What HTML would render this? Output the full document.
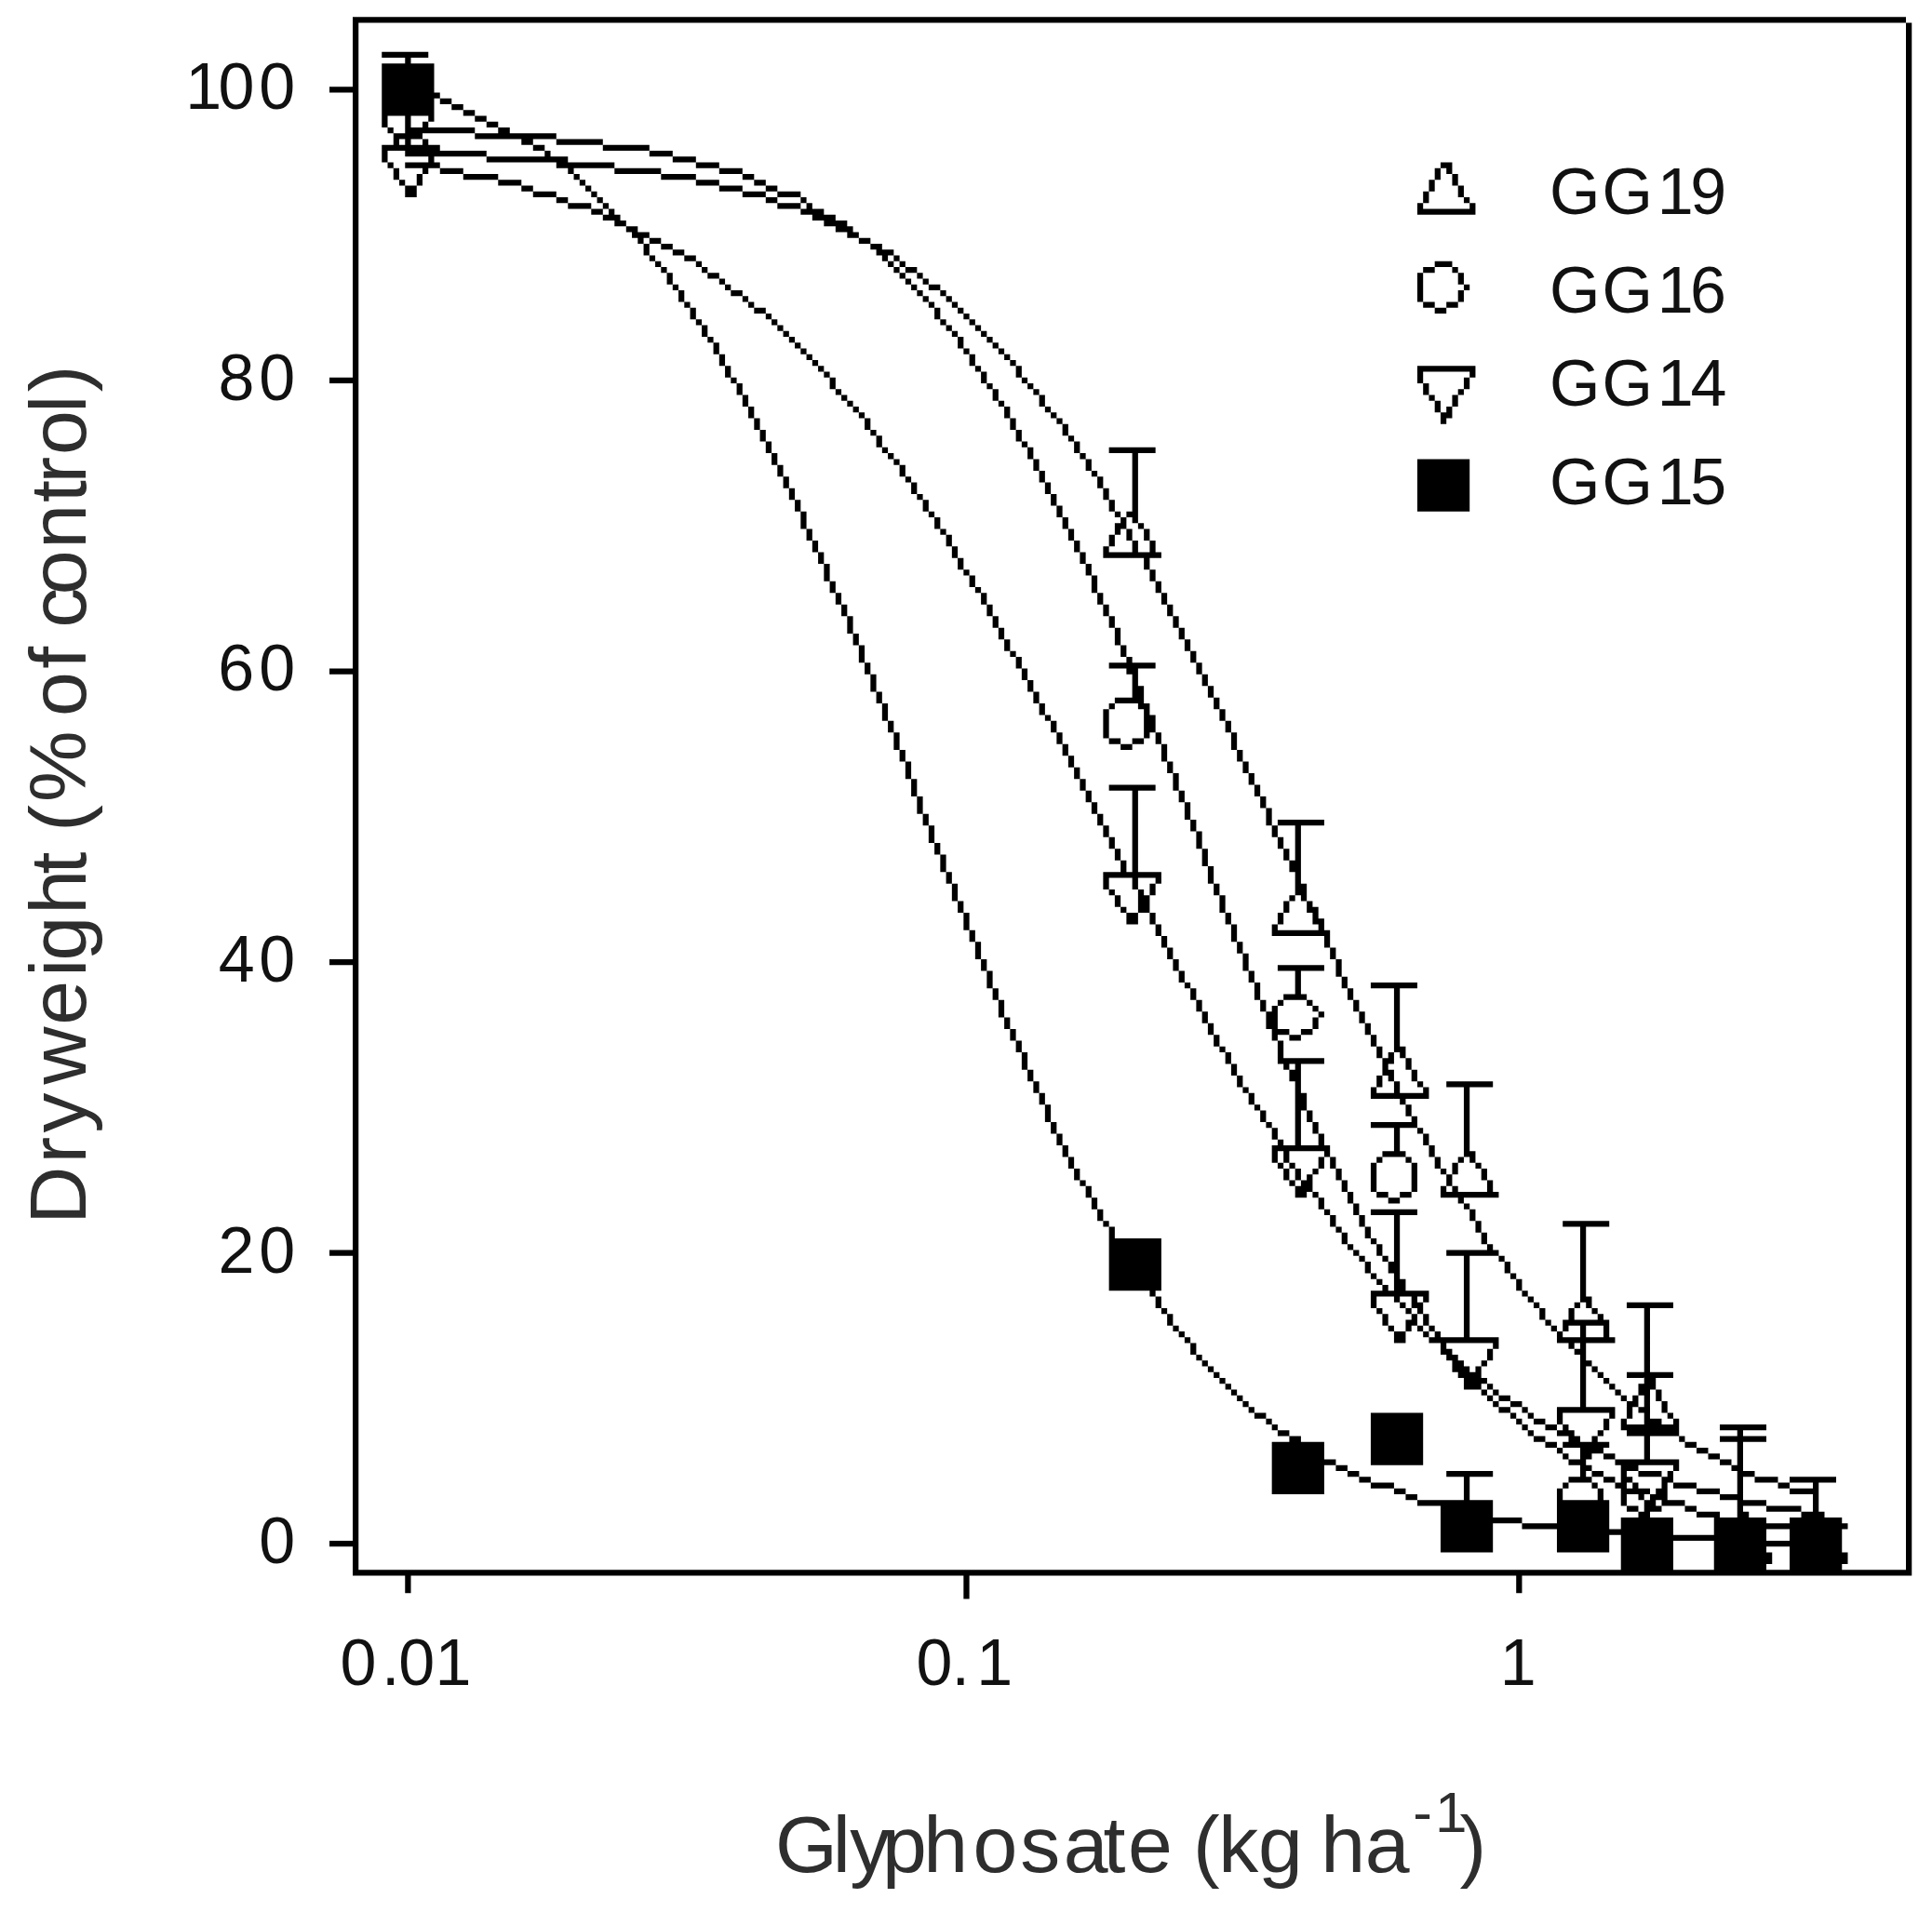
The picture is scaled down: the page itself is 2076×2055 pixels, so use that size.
<!DOCTYPE html>
<html lang="en"><head><meta charset="utf-8"><title>Dose response: dry weight vs glyphosate</title>
<style>
html,body{margin:0;padding:0;background:#fff}
body{width:2076px;height:2055px;overflow:hidden}
svg{display:block}
text{font-family:"Liberation Sans",sans-serif;fill:#111}
.t{font-size:70.00px}
.a{font-size:86.00px;fill:#2e2e2e}
.s{font-size:62.00px}
</style></head>
<body>
<svg width="2076" height="2055" viewBox="0 0 2076 2055">
<rect width="2076" height="2055" fill="#fff"/>
<g transform="translate(379.00 18.30) scale(6.2510)"><path fill="#000" d="M0 0h267v1h-267zM0 1h1v267h-1zM267 1h1v267h-1zM5 6h8v1h-8zM9 7h1v17h-1zM5 8h4v9h-4zM10 8h4v9h-4zM-4 12h4v1h-4zM14 13h1v1h-1zM15 14h2v1h-2zM17 15h2v1h-2zM19 16h2v1h-2zM5 17h1v2h-1zM13 17h1v1h-1zM21 17h2v1h-2zM12 18h1v2h-1zM23 18h2v1h-2zM6 19h1v1h-1zM10 19h2v2h-2zM13 19h8v1h-8zM25 19h2v2h-2zM7 20h2v1h-2zM21 20h4v1h-4zM27 20h8v1h-8zM7 21h1v2h-1zM12 21h1v3h-1zM29 21h2v1h-2zM35 21h8v1h-8zM5 22h2v1h-2zM8 22h1v1h-1zM10 22h2v2h-2zM13 22h2v2h-2zM31 22h2v1h-2zM43 22h8v1h-8zM5 23h1v2h-1zM15 23h8v1h-8zM33 23h1v2h-1zM51 23h4v1h-4zM13 24h1v2h-1zM23 24h10v1h-10zM34 24h3v1h-3zM55 24h4v1h-4zM6 25h1v1h-1zM9 25h4v1h-4zM14 25h1v1h-1zM35 25h10v1h-10zM59 25h4v1h-4zM187 25h2v1h-2zM7 26h1v2h-1zM12 26h1v1h-1zM15 26h4v1h-4zM37 26h1v1h-1zM45 26h8v1h-8zM63 26h4v1h-4zM186 26h1v2h-1zM188 26h1v1h-1zM11 27h1v2h-1zM19 27h6v1h-6zM38 27h1v1h-1zM53 27h6v1h-6zM67 27h2v1h-2zM189 27h1v2h-1zM8 28h1v1h-1zM25 28h4v1h-4zM39 28h1v1h-1zM59 28h4v1h-4zM69 28h2v1h-2zM185 28h1v2h-1zM9 29h2v2h-2zM29 29h2v1h-2zM40 29h1v1h-1zM63 29h4v1h-4zM71 29h2v1h-2zM190 29h1v2h-1zM31 30h4v1h-4zM41 30h1v1h-1zM67 30h4v1h-4zM73 30h4v1h-4zM184 30h1v2h-1zM35 31h2v1h-2zM42 31h1v1h-1zM71 31h2v1h-2zM77 31h1v1h-1zM191 31h1v1h-1zM37 32h4v1h-4zM43 32h1v1h-1zM73 32h4v1h-4zM78 32h1v2h-1zM183 32h1v2h-1zM192 32h1v2h-1zM41 33h2v1h-2zM44 33h1v2h-1zM77 33h1v1h-1zM79 33h2v2h-2zM184 33h8v1h-8zM43 34h1v1h-1zM45 34h1v2h-1zM81 34h2v2h-2zM46 35h1v1h-1zM83 35h2v2h-2zM47 36h2v1h-2zM85 36h1v2h-1zM48 37h3v1h-3zM86 37h1v1h-1zM49 38h1v1h-1zM51 38h2v1h-2zM87 38h2v1h-2zM50 39h1v2h-1zM53 39h2v1h-2zM89 39h2v1h-2zM55 40h2v1h-2zM90 40h3v1h-3zM51 41h1v1h-1zM57 41h2v1h-2zM91 41h1v1h-1zM93 41h1v1h-1zM52 42h1v1h-1zM59 42h1v1h-1zM92 42h1v1h-1zM94 42h1v1h-1zM186 42h3v1h-3zM53 43h1v1h-1zM60 43h1v1h-1zM93 43h1v1h-1zM95 43h2v1h-2zM184 43h2v1h-2zM189 43h1v1h-1zM54 44h1v2h-1zM61 44h2v1h-2zM94 44h1v1h-1zM97 44h1v1h-1zM183 44h1v5h-1zM190 44h1v2h-1zM63 45h1v1h-1zM95 45h1v1h-1zM98 45h1v1h-1zM55 46h1v1h-1zM64 46h1v1h-1zM96 46h1v1h-1zM99 46h2v1h-2zM191 46h1v1h-1zM56 47h1v2h-1zM65 47h2v1h-2zM97 47h1v1h-1zM101 47h1v1h-1zM190 47h1v2h-1zM67 48h1v1h-1zM98 48h1v1h-1zM102 48h1v1h-1zM57 49h1v1h-1zM68 49h1v1h-1zM99 49h1v1h-1zM103 49h1v1h-1zM184 49h2v1h-2zM188 49h2v1h-2zM58 50h1v2h-1zM69 50h2v1h-2zM100 50h1v2h-1zM104 50h1v1h-1zM186 50h2v1h-2zM71 51h1v1h-1zM105 51h1v1h-1zM59 52h1v1h-1zM72 52h1v1h-1zM101 52h1v1h-1zM106 52h1v1h-1zM60 53h1v2h-1zM73 53h1v1h-1zM102 53h1v1h-1zM107 53h1v1h-1zM74 54h1v1h-1zM103 54h1v1h-1zM108 54h1v1h-1zM61 55h1v1h-1zM75 55h1v1h-1zM104 55h1v2h-1zM109 55h1v1h-1zM62 56h1v2h-1zM76 56h1v1h-1zM110 56h1v1h-1zM77 57h1v1h-1zM105 57h1v1h-1zM111 57h1v1h-1zM63 58h1v2h-1zM78 58h1v1h-1zM106 58h1v2h-1zM112 58h1v1h-1zM79 59h1v1h-1zM113 59h1v1h-1zM64 60h1v2h-1zM80 60h1v1h-1zM107 60h1v1h-1zM114 60h1v2h-1zM183 60h10v1h-10zM81 61h1v1h-1zM108 61h1v2h-1zM183 61h1v2h-1zM192 61h1v1h-1zM-4 62h4v1h-4zM65 62h1v1h-1zM82 62h1v2h-1zM115 62h1v1h-1zM191 62h1v2h-1zM66 63h1v2h-1zM109 63h1v1h-1zM116 63h1v1h-1zM184 63h1v2h-1zM83 64h1v1h-1zM110 64h1v2h-1zM117 64h1v1h-1zM190 64h1v1h-1zM67 65h1v2h-1zM84 65h1v1h-1zM118 65h1v2h-1zM185 65h1v1h-1zM189 65h1v2h-1zM85 66h1v1h-1zM111 66h1v1h-1zM186 66h1v2h-1zM68 67h1v2h-1zM86 67h1v1h-1zM112 67h1v2h-1zM119 67h1v1h-1zM188 67h1v2h-1zM87 68h1v1h-1zM120 68h1v1h-1zM187 68h1v2h-1zM69 69h1v2h-1zM88 69h1v2h-1zM113 69h1v2h-1zM121 69h1v1h-1zM122 70h1v2h-1zM70 71h1v2h-1zM89 71h1v1h-1zM114 71h1v2h-1zM90 72h1v2h-1zM123 72h1v1h-1zM71 73h1v2h-1zM115 73h1v1h-1zM124 73h1v2h-1zM91 74h1v1h-1zM116 74h1v2h-1zM130 74h8v1h-8zM72 75h1v2h-1zM92 75h1v1h-1zM125 75h1v1h-1zM134 75h1v12h-1zM93 76h1v1h-1zM117 76h1v2h-1zM126 76h1v2h-1zM183 76h9v9h-9zM73 77h1v2h-1zM94 77h1v2h-1zM118 78h1v2h-1zM127 78h1v1h-1zM74 79h1v2h-1zM95 79h1v1h-1zM128 79h1v2h-1zM96 80h1v2h-1zM119 80h1v2h-1zM75 81h1v2h-1zM129 81h1v2h-1zM97 82h1v1h-1zM120 82h1v2h-1zM76 83h1v2h-1zM98 83h1v2h-1zM130 83h1v2h-1zM121 84h1v2h-1zM77 85h1v3h-1zM99 85h1v1h-1zM131 85h1v1h-1zM133 85h1v1h-1zM100 86h1v2h-1zM122 86h1v2h-1zM132 86h1v2h-1zM131 87h1v2h-1zM135 87h1v1h-1zM78 88h1v2h-1zM101 88h1v1h-1zM123 88h1v2h-1zM133 88h1v2h-1zM136 88h1v2h-1zM102 89h1v2h-1zM130 89h1v2h-1zM79 90h1v2h-1zM124 90h1v2h-1zM134 90h1v3h-1zM137 90h1v3h-1zM103 91h1v2h-1zM129 91h1v2h-1zM80 92h1v2h-1zM125 92h1v2h-1zM130 92h4v1h-4zM135 92h2v1h-2zM138 92h1v1h-1zM104 93h1v2h-1zM136 93h1v2h-1zM81 94h1v3h-1zM126 94h1v2h-1zM105 95h1v1h-1zM137 95h1v2h-1zM106 96h1v2h-1zM127 96h1v3h-1zM82 97h1v2h-1zM138 97h1v2h-1zM107 98h1v1h-1zM83 99h1v2h-1zM108 99h1v2h-1zM128 99h1v2h-1zM139 99h1v2h-1zM84 101h1v2h-1zM109 101h1v2h-1zM129 101h1v2h-1zM140 101h1v2h-1zM85 103h1v3h-1zM110 103h1v2h-1zM130 103h1v2h-1zM141 103h1v2h-1zM111 105h1v2h-1zM131 105h1v3h-1zM142 105h1v2h-1zM86 106h1v2h-1zM112 107h1v2h-1zM143 107h1v2h-1zM87 108h1v3h-1zM132 108h1v2h-1zM113 109h1v1h-1zM144 109h1v2h-1zM114 110h1v2h-1zM133 110h1v3h-1zM88 111h1v2h-1zM130 111h3v1h-3zM134 111h4v1h-4zM145 111h1v2h-1zM-4 112h4v1h-4zM115 112h1v2h-1zM134 112h1v6h-1zM89 113h1v3h-1zM146 113h1v2h-1zM116 114h1v2h-1zM135 115h1v4h-1zM147 115h1v2h-1zM90 116h1v2h-1zM117 116h1v2h-1zM131 117h3v1h-3zM148 117h1v2h-1zM91 118h1v3h-1zM118 118h1v2h-1zM130 118h1v1h-1zM136 118h1v6h-1zM129 119h1v5h-1zM149 119h1v2h-1zM119 120h1v1h-1zM137 120h1v3h-1zM92 121h1v2h-1zM120 121h1v2h-1zM150 121h1v2h-1zM93 123h1v3h-1zM121 123h1v2h-1zM138 123h1v2h-1zM151 123h1v3h-1zM130 124h2v1h-2zM134 124h2v1h-2zM122 125h1v2h-1zM132 125h2v1h-2zM139 125h1v3h-1zM94 126h1v2h-1zM152 126h1v2h-1zM123 127h1v2h-1zM95 128h1v3h-1zM140 128h1v2h-1zM153 128h1v2h-1zM124 129h1v2h-1zM141 130h1v3h-1zM154 130h1v2h-1zM96 131h1v3h-1zM125 131h1v2h-1zM130 132h8v1h-8zM155 132h1v2h-1zM126 133h1v2h-1zM134 133h1v17h-1zM142 133h1v2h-1zM97 134h1v3h-1zM156 134h1v2h-1zM127 135h1v2h-1zM143 135h1v3h-1zM157 136h1v3h-1zM98 137h1v2h-1zM128 137h1v2h-1zM144 138h1v2h-1zM159 138h8v1h-8zM99 139h1v3h-1zM129 139h1v2h-1zM158 139h1v2h-1zM162 139h1v12h-1zM145 140h1v3h-1zM130 141h1v2h-1zM159 141h1v2h-1zM100 142h1v2h-1zM131 143h1v2h-1zM146 143h1v3h-1zM160 143h1v2h-1zM101 144h1v3h-1zM132 145h1v3h-1zM161 145h1v2h-1zM147 146h1v3h-1zM102 147h1v2h-1zM129 147h3v1h-3zM133 147h1v1h-1zM135 147h4v1h-4zM129 148h1v2h-1zM138 148h1v1h-1zM103 149h1v3h-1zM137 149h1v2h-1zM148 149h1v2h-1zM163 149h1v3h-1zM130 150h1v1h-1zM135 150h1v4h-1zM131 151h1v2h-1zM136 151h1v3h-1zM149 151h1v3h-1zM161 151h1v1h-1zM104 152h1v2h-1zM160 152h1v2h-1zM164 152h1v2h-1zM132 153h1v1h-1zM165 153h1v3h-1zM105 154h1v3h-1zM133 154h2v2h-2zM137 154h1v2h-1zM150 154h1v2h-1zM159 154h1v2h-1zM166 155h1v3h-1zM138 156h1v2h-1zM151 156h1v3h-1zM158 156h1v2h-1zM106 157h1v2h-1zM159 157h7v1h-7zM167 157h1v3h-1zM139 158h1v2h-1zM107 159h1v3h-1zM152 159h1v2h-1zM140 160h1v2h-1zM168 160h1v2h-1zM153 161h1v3h-1zM-4 162h4v1h-4zM108 162h1v2h-1zM141 162h1v2h-1zM169 162h1v3h-1zM159 163h8v1h-8zM109 164h1v3h-1zM142 164h1v2h-1zM154 164h1v2h-1zM162 164h1v5h-1zM170 165h1v2h-1zM143 166h1v1h-1zM155 166h1v3h-1zM175 166h8v1h-8zM110 167h1v2h-1zM144 167h1v2h-1zM171 167h1v2h-1zM179 167h1v11h-1zM160 168h2v1h-2zM163 168h1v1h-1zM111 169h1v3h-1zM145 169h1v2h-1zM156 169h1v2h-1zM159 169h1v1h-1zM164 169h1v1h-1zM172 169h1v2h-1zM158 170h1v6h-1zM165 170h1v1h-1zM146 171h1v2h-1zM157 171h1v3h-1zM166 171h1v1h-1zM173 171h1v2h-1zM112 172h1v2h-1zM165 172h1v2h-1zM147 173h1v2h-1zM174 173h1v2h-1zM113 174h1v2h-1zM159 174h2v1h-2zM163 174h2v1h-2zM148 175h1v2h-1zM161 175h2v1h-2zM175 175h1v2h-1zM114 176h1v2h-1zM159 176h1v4h-1zM149 177h1v1h-1zM176 177h1v2h-1zM180 177h1v2h-1zM115 178h1v3h-1zM150 178h1v2h-1zM178 178h1v2h-1zM160 179h7v1h-7zM177 179h1v3h-1zM181 179h1v2h-1zM151 180h1v2h-1zM160 180h1v1h-1zM162 180h1v15h-1zM116 181h1v2h-1zM161 181h1v2h-1zM178 181h1v2h-1zM182 181h1v2h-1zM152 182h1v2h-1zM176 182h1v2h-1zM117 183h1v2h-1zM179 183h1v3h-1zM183 183h1v1h-1zM188 183h8v1h-8zM153 184h1v1h-1zM175 184h1v2h-1zM184 184h1v2h-1zM191 184h1v12h-1zM118 185h1v2h-1zM154 185h1v2h-1zM163 185h1v3h-1zM176 185h3v1h-3zM180 185h4v1h-4zM180 186h1v1h-1zM119 187h1v3h-1zM155 187h1v1h-1zM181 187h1v2h-1zM156 188h1v2h-1zM164 188h1v2h-1zM182 189h1v2h-1zM120 190h1v2h-1zM157 190h1v1h-1zM165 190h1v2h-1zM175 190h7v1h-7zM158 191h1v2h-1zM179 191h1v5h-1zM183 191h1v1h-1zM121 192h1v2h-1zM166 192h1v3h-1zM184 192h1v2h-1zM159 193h1v2h-1zM122 194h1v2h-1zM158 194h1v3h-1zM160 194h2v1h-2zM163 194h3v1h-3zM167 194h1v2h-1zM185 194h1v2h-1zM160 195h1v2h-1zM177 195h2v1h-2zM180 195h1v1h-1zM192 195h1v2h-1zM123 196h1v2h-1zM166 196h1v2h-1zM168 196h1v2h-1zM176 196h1v1h-1zM181 196h1v1h-1zM186 196h1v2h-1zM190 196h1v1h-1zM159 197h1v1h-1zM161 197h1v1h-1zM175 197h1v5h-1zM182 197h1v5h-1zM189 197h1v2h-1zM193 197h1v1h-1zM124 198h1v2h-1zM160 198h1v2h-1zM162 198h1v2h-1zM165 198h1v1h-1zM169 198h1v2h-1zM187 198h1v1h-1zM194 198h1v2h-1zM164 199h1v3h-1zM188 199h1v2h-1zM125 200h1v1h-1zM161 200h1v1h-1zM163 200h1v3h-1zM170 200h1v2h-1zM195 200h1v3h-1zM126 201h1v2h-1zM162 201h1v2h-1zM187 201h1v2h-1zM189 201h1v2h-1zM165 202h1v1h-1zM171 202h1v2h-1zM176 202h2v1h-2zM180 202h2v1h-2zM188 202h1v1h-1zM190 202h5v1h-5zM196 202h1v1h-1zM127 203h1v2h-1zM166 203h1v2h-1zM178 203h2v1h-2zM190 203h1v1h-1zM172 204h1v2h-1zM191 204h1v1h-1zM128 205h1v2h-1zM167 205h1v1h-1zM175 205h8v1h-8zM192 205h1v2h-1zM168 206h1v2h-1zM173 206h1v2h-1zM179 206h1v15h-1zM129 207h1v1h-1zM193 207h1v2h-1zM208 207h8v1h-8zM130 208h1v11h-1zM169 208h1v1h-1zM174 208h1v2h-1zM211 208h1v13h-1zM170 209h1v2h-1zM194 209h1v2h-1zM131 210h8v9h-8zM175 210h1v1h-1zM171 211h1v1h-1zM176 211h1v2h-1zM195 211h1v2h-1zM-4 212h4v1h-4zM172 212h1v1h-1zM188 212h7v1h-7zM196 212h1v1h-1zM173 213h1v1h-1zM177 213h1v1h-1zM191 213h1v15h-1zM197 213h1v1h-1zM174 214h1v2h-1zM178 214h1v2h-1zM198 214h1v2h-1zM175 216h1v1h-1zM199 216h1v1h-1zM176 217h1v1h-1zM180 217h1v3h-1zM200 217h1v2h-1zM177 218h1v2h-1zM137 219h1v1h-1zM175 219h2v1h-2zM178 219h1v1h-1zM181 219h4v1h-4zM201 219h1v1h-1zM138 220h1v2h-1zM175 220h1v2h-1zM182 220h1v2h-1zM184 220h1v1h-1zM202 220h1v1h-1zM212 220h1v2h-1zM180 221h1v1h-1zM183 221h1v2h-1zM203 221h1v1h-1zM210 221h1v1h-1zM219 221h8v1h-8zM139 222h1v1h-1zM176 222h1v1h-1zM181 222h1v1h-1zM204 222h1v2h-1zM209 222h1v3h-1zM213 222h1v1h-1zM222 222h1v27h-1zM140 223h1v2h-1zM177 223h1v2h-1zM182 223h1v2h-1zM184 223h1v2h-1zM214 223h1v2h-1zM181 224h1v2h-1zM205 224h1v1h-1zM208 224h1v2h-1zM210 224h4v1h-4zM215 224h1v4h-1zM141 225h1v1h-1zM178 225h1v1h-1zM183 225h1v1h-1zM185 225h1v1h-1zM206 225h1v1h-1zM211 225h1v15h-1zM142 226h1v1h-1zM179 226h2v2h-2zM184 226h1v1h-1zM186 226h1v2h-1zM207 226h1v2h-1zM143 227h1v1h-1zM185 227h1v1h-1zM187 227h4v1h-4zM192 227h5v1h-5zM208 227h3v1h-3zM212 227h3v1h-3zM216 227h1v1h-1zM144 228h1v2h-1zM187 228h1v2h-1zM196 228h1v1h-1zM209 228h1v1h-1zM188 229h1v2h-1zM195 229h1v2h-1zM210 229h1v1h-1zM145 230h1v1h-1zM189 230h1v3h-1zM146 231h1v1h-1zM190 231h1v3h-1zM194 231h1v1h-1zM212 231h1v1h-1zM147 232h1v1h-1zM191 232h1v4h-1zM193 232h1v4h-1zM213 232h1v1h-1zM148 233h1v1h-1zM192 233h1v3h-1zM214 233h1v1h-1zM219 233h3v1h-3zM223 233h4v1h-4zM149 234h1v1h-1zM194 234h1v1h-1zM215 234h1v1h-1zM223 234h1v2h-1zM150 235h1v1h-1zM195 235h1v1h-1zM216 235h1v1h-1zM221 235h1v2h-1zM151 236h1v1h-1zM194 236h1v1h-1zM196 236h1v1h-1zM217 236h1v1h-1zM224 236h1v2h-1zM152 237h1v1h-1zM195 237h1v1h-1zM197 237h2v1h-2zM218 237h1v1h-1zM220 237h1v2h-1zM153 238h1v1h-1zM196 238h1v1h-1zM199 238h2v1h-2zM219 238h1v3h-1zM225 238h1v2h-1zM154 239h1v1h-1zM197 239h2v1h-2zM201 239h1v1h-1zM207 239h4v1h-4zM212 239h5v1h-5zM221 239h1v1h-1zM155 240h2v1h-2zM175 240h9v9h-9zM199 240h1v1h-1zM202 240h1v1h-1zM207 240h1v2h-1zM216 240h1v1h-1zM226 240h1v1h-1zM157 241h1v1h-1zM200 241h1v1h-1zM203 241h2v1h-2zM215 241h1v2h-1zM218 241h1v2h-1zM223 241h2v3h-2zM227 241h1v3h-1zM158 242h1v1h-1zM201 242h1v1h-1zM205 242h2v1h-2zM208 242h1v2h-1zM219 242h3v2h-3zM225 242h2v2h-2zM235 242h8v1h-8zM159 243h2v1h-2zM202 243h1v1h-1zM207 243h1v1h-1zM209 243h1v3h-1zM214 243h1v1h-1zM238 243h1v25h-1zM161 244h2v10h-2zM203 244h2v1h-2zM210 244h1v2h-1zM213 244h1v3h-1zM228 244h1v1h-1zM235 244h3v1h-3zM239 244h4v1h-4zM158 245h3v9h-3zM163 245h4v9h-4zM205 245h2v1h-2zM208 245h1v1h-1zM211 245h2v3h-2zM214 245h2v1h-2zM229 245h2v1h-2zM207 246h1v1h-1zM214 246h1v1h-1zM231 246h2v1h-2zM208 247h1v1h-1zM215 247h2v1h-2zM233 247h2v1h-2zM167 248h2v1h-2zM209 248h3v1h-3zM217 248h5v1h-5zM223 248h5v1h-5zM235 248h2v1h-2zM169 249h2v1h-2zM211 249h2v1h-2zM218 249h3v1h-3zM227 249h1v1h-1zM237 249h1v1h-1zM171 250h2v1h-2zM188 250h8v1h-8zM211 250h1v2h-1zM213 250h2v1h-2zM218 250h1v6h-1zM221 250h4v1h-4zM226 250h1v2h-1zM239 250h2v1h-2zM173 251h2v1h-2zM191 251h1v13h-1zM209 251h2v1h-2zM212 251h1v1h-1zM215 251h2v1h-2zM219 251h1v1h-1zM225 251h1v5h-1zM241 251h4v1h-4zM247 251h8v1h-8zM175 252h4v1h-4zM208 252h1v1h-1zM213 252h1v1h-1zM217 252h1v1h-1zM220 252h1v2h-1zM227 252h4v1h-4zM245 252h2v1h-2zM251 252h1v16h-1zM179 253h2v1h-2zM207 253h1v11h-1zM214 253h1v11h-1zM219 253h1v1h-1zM221 253h2v1h-2zM224 253h1v2h-1zM231 253h4v1h-4zM247 253h4v1h-4zM181 254h2v1h-2zM221 254h1v1h-1zM223 254h1v3h-1zM235 254h3v1h-3zM183 255h8v1h-8zM192 255h4v9h-4zM208 255h6v9h-6zM215 255h1v9h-1zM222 255h1v13h-1zM226 255h3v1h-3zM239 255h4v1h-4zM187 256h4v8h-4zM219 256h2v1h-2zM224 256h1v1h-1zM229 256h2v1h-2zM243 256h6v1h-6zM221 257h1v11h-1zM231 257h4v1h-4zM239 257h1v11h-1zM249 257h2v11h-2zM252 257h1v11h-1zM196 258h5v1h-5zM218 258h3v10h-3zM223 258h4v10h-4zM234 258h4v10h-4zM240 258h3v10h-3zM247 258h2v10h-2zM253 258h3v10h-3zM201 259h6v1h-6zM243 259h4v1h-4zM256 259h1v1h-1zM216 260h2v1h-2zM227 261h7v1h-7zM-4 262h4v1h-4zM243 262h4v1h-4zM243 264h1v2h-1zM256 264h1v2h-1zM1 267h217v1h-217zM227 267h7v1h-7zM243 267h4v1h-4zM256 267h11v1h-11zM9 268h1v3h-1zM105 268h1v4h-1zM200 268h1v3h-1z"/></g>
<text class="t" x="199.2 234.5 278.2" y="117.3">100</text>
<text class="t" x="234.5 278.2" y="429.9">80</text>
<text class="t" x="234.2 278.2" y="742.4">60</text>
<text class="t" x="234.7 278.2" y="1055.0">40</text>
<text class="t" x="234.5 278.2" y="1367.5">20</text>
<text class="t" x="278.2" y="1680.1">0</text>
<text class="t" x="365.5 410.0 428.2 467.6" y="1811.3">0.01</text>
<text class="t" x="984.4 1022.4 1049.2" y="1811.3">0.1</text>
<text class="t" x="1611.7" y="1811.3">1</text>
<text class="t" x="1665.1 1721.5 1780.7 1816.3" y="229.8">GG19</text>
<text class="t" x="1665.1 1721.5 1780.7 1816.0" y="336.1">GG16</text>
<text class="t" x="1665.1 1721.5 1780.7 1816.5" y="436.1">GG14</text>
<text class="t" x="1665.1 1721.5 1780.7 1816.3" y="542.4">GG15</text>
<text class="a" x="832.9 894.8 913.3 947.9 992.2 1045.6 1096.3 1142.7 1185.6 1212.0 1259.8 1282.1 1309.2 1352.1 1399.9 1419.3 1466.7" y="2012.0">Glyphosate (kg ha<tspan class="s" x="1518.2 1541.9" y="1969.4 1968.6">-1</tspan><tspan x="1568.6" y="2012.0">)</tspan></text>
<text class="a" transform="translate(91.5 1306.0) rotate(-90)" x="-9.7 55.4 88.6 131.6 140.6 204.3 256.2 273.6 323.3 366.5 390.4 412.3 443.9 520.3 536.0 587.2 611.1 631.2 666.7 716.3 766.0 786.6 817.1 862.2 884.7" y="0">Dry weight (% of control)</text>
</svg>
</body></html>
